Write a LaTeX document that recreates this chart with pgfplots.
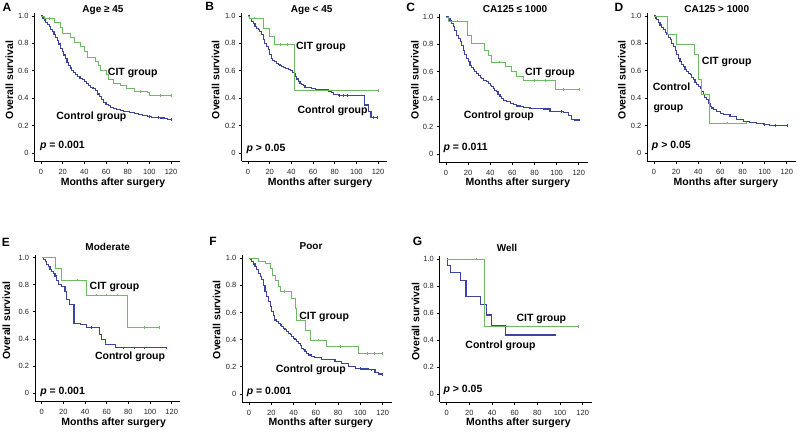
\documentclass[border=0pt]{standalone}
\usepackage{pgfplots}
\pgfplotsset{compat=1.18}
\usepackage{fontspec}
\setmainfont{Liberation Sans}
\definecolor{ctrl}{RGB}{58,70,160}
\definecolor{cit}{RGB}{110,185,100}
\newcommand\lab{\fontsize{10.5}{12}\selectfont\bfseries}
\newcommand\ann{\fontsize{10.5}{12}\selectfont\bfseries}
\newcommand\ttl{\fontsize{10}{12}\selectfont\bfseries}
\newcommand\plet{\fontsize{12}{14}\selectfont\bfseries}
\pgfplotsset{km/.style={
  scale only axis, anchor=south west,
  axis lines=left, axis line style={-, line width=0.9pt, black},
  xmin=-6, xmax=128, ymin=-0.06, ymax=1.02,
  xtick={0,20,40,60,80,100,120}, xticklabels={0,20,40,60,80,100,120},
  ytick={0,0.2,0.4,0.6,0.8,1}, yticklabels={0,0.2,0.4,0.6,0.8,1.0},
  tick align=outside, major tick length=2.5pt,
  every tick/.style={black, line width=0.7pt},
  tick label style={font=\fontsize{7.5}{8}\selectfont, text=black!85},
  xticklabel style={yshift=-2.5pt},
  /pgf/number format/assume math mode=true,
  clip=false,
},
ctl/.style={const plot, color=ctrl, line width=1.1pt, no marks},
cg/.style={const plot, color=cit, line width=0.75pt, no marks},
cens/.style={only marks, mark=|, mark size=1.3pt, mark options={line width=0.5pt}},
}
\begin{document}
\begin{tikzpicture}[x=1pt,y=1pt]
% ---------------- A
\begin{axis}[km, at={(34.5pt,269.8pt)}, width=145.2pt, height=148pt]
\addplot[ctl] coordinates {(0,1.0)(1.5,0.985)(3,0.97)(4.5,0.955)(6,0.94)(7.5,0.92)(9,0.90)(10.5,0.885)(12,0.865)(13.5,0.845)(15,0.82)(16.5,0.795)(18,0.765)(19.5,0.74)(21,0.715)(22.5,0.69)(24,0.66)(25.5,0.64)(27,0.62)(28.5,0.60)(30,0.585)(32,0.57)(34,0.555)(36,0.545)(38,0.535)(40,0.52)(42,0.51)(44,0.495)(46,0.48)(48,0.47)(50,0.455)(52,0.43)(54,0.41)(56,0.39)(58,0.37)(60,0.355)(62,0.345)(64,0.335)(67,0.325)(70,0.315)(73,0.31)(76,0.305)(79,0.30)(82,0.295)(86,0.29)(90,0.28)(94,0.275)(98,0.265)(102,0.262)(106,0.258)(110,0.255)(114,0.25)(117,0.247)(120,0.245)};
\addplot[cg] coordinates {(0,1.0)(3,0.98)(12,0.95)(18,0.92)(20,0.875)(27,0.84)(31,0.81)(36,0.78)(40,0.74)(43,0.70)(50,0.67)(53,0.64)(55,0.60)(60,0.57)(62,0.54)(67,0.51)(73,0.49)(79,0.47)(86,0.45)(98,0.44)(100,0.42)(120,0.42)};
\addplot[cens, color=cit] coordinates {(8,0.98)(92,0.45)(110,0.42)(120,0.42)};
\addplot[cens, color=ctrl] coordinates {(100,0.265)(108,0.258)(120,0.245)};
\node[anchor=mid, font=\ann] at (axis cs:84.7,0.587) {CIT group};
\node[anchor=mid, font=\ann] at (axis cs:46.5,0.262) {Control group};
\node[anchor=mid west, inner sep=0pt, font=\ann] at (axis cs:-1,0.049) {\textit{p} = 0.001};
\end{axis}
% ---------------- B
\begin{axis}[km, at={(241.5pt,269.8pt)}, width=145.2pt, height=148pt]
\addplot[ctl] coordinates {(0,1.0)(1.5,0.98)(3,0.962)(5,0.945)(6.5,0.925)(8,0.91)(9.5,0.90)(11,0.885)(12.5,0.862)(14,0.83)(15.5,0.80)(17,0.775)(18.6,0.752)(20,0.72)(21.7,0.69)(23,0.678)(24.7,0.667)(26,0.655)(27.8,0.643)(29.5,0.637)(31,0.631)(33,0.623)(35,0.615)(37,0.607)(39,0.60)(41,0.59)(42.5,0.578)(43.5,0.56)(45,0.54)(46.4,0.522)(48,0.51)(49.5,0.50)(51,0.49)(52.6,0.481)(55.7,0.476)(58.8,0.468)(62,0.464)(68,0.46)(74,0.451)(77,0.44)(79,0.427)(83.5,0.42)(107.5,0.35)(111.5,0.30)(113.5,0.26)(119,0.26)};
\addplot[cg] coordinates {(0,1.0)(1,0.985)(13.9,0.91)(20.1,0.85)(24.1,0.79)(42.7,0.456)(120,0.456)};
\addplot[cens, color=cit] coordinates {(6,0.985)(30,0.79)(36,0.79)(120,0.456)};
\addplot[cens, color=ctrl] coordinates {(84,0.42)(88,0.42)(92,0.42)(116,0.26)(119,0.26)};
\node[anchor=mid, font=\ann] at (axis cs:67.3,0.777) {CIT group};
\node[anchor=mid, font=\ann] at (axis cs:78,0.308) {Control group};
\node[anchor=mid west, inner sep=0pt, font=\ann] at (axis cs:-1.5,0.03) {\textit{p} > 0.05};
\end{axis}
% ---------------- C
\begin{axis}[km, at={(439.4pt,268.8pt)}, width=148.2pt, height=148pt]
\addplot[ctl] coordinates {(0,1.0)(2,0.985)(3.6,0.971)(5,0.95)(6.6,0.927)(8,0.90)(9.6,0.867)(11,0.842)(12.7,0.818)(14,0.79)(15.7,0.757)(17,0.727)(18.7,0.697)(20,0.672)(21.7,0.648)(23,0.632)(24.7,0.617)(26,0.602)(27.7,0.587)(29,0.572)(30.8,0.558)(32,0.548)(33.8,0.539)(35,0.533)(36.8,0.527)(38,0.515)(39.8,0.502)(41,0.49)(42.8,0.478)(44,0.466)(45.8,0.454)(47,0.435)(48.8,0.417)(50,0.405)(51.9,0.393)(54.9,0.381)(57.9,0.369)(60.9,0.362)(63.9,0.35)(66.9,0.345)(69.9,0.34)(75.9,0.335)(81.9,0.33)(87.9,0.328)(94,0.313)(100,0.308)(106,0.301)(110.6,0.284)(113.6,0.252)(115.8,0.248)(120,0.248)};
\addplot[cg] coordinates {(0,1.0)(2,0.97)(19.3,0.867)(23,0.806)(34.7,0.757)(38.3,0.72)(41.3,0.672)(53.4,0.636)(59.4,0.60)(64,0.568)(70,0.534)(98.6,0.471)(120,0.471)};
\addplot[cens, color=cit] coordinates {(10,0.97)(48,0.672)(80,0.534)(90,0.534)(106,0.471)(120,0.471)};
\addplot[cens, color=ctrl] coordinates {(90,0.328)(104,0.308)(120,0.248)};
\node[anchor=mid, font=\ann] at (axis cs:94,0.592) {CIT group};
\node[anchor=mid, font=\ann] at (axis cs:47.8,0.279) {Control group};
\node[anchor=mid west, inner sep=0pt, font=\ann] at (axis cs:-2.4,0.041) {\textit{p} = 0.011};
\end{axis}
% ---------------- D
\begin{axis}[km, at={(647.4pt,269.8pt)}, width=148.2pt, height=148pt]
\addplot[ctl] coordinates {(0,1.0)(1.2,0.985)(2.4,0.971)(4,0.952)(5.4,0.934)(7,0.916)(8.4,0.898)(10,0.88)(11.5,0.862)(13,0.843)(14.5,0.825)(16,0.80)(17.5,0.777)(19,0.745)(20.5,0.716)(22,0.69)(23.5,0.667)(25,0.648)(26.5,0.631)(28,0.612)(29.5,0.595)(31,0.582)(32.6,0.57)(34,0.552)(35.6,0.534)(37,0.515)(38.6,0.498)(40,0.485)(41.6,0.473)(43,0.449)(44.6,0.425)(46,0.405)(47.6,0.388)(49,0.364)(50.6,0.34)(52,0.328)(53.6,0.316)(56.6,0.303)(59.7,0.291)(62.7,0.279)(68.7,0.267)(74.7,0.243)(80.7,0.231)(86.7,0.223)(92.7,0.218)(98.7,0.206)(104.7,0.199)(119.8,0.199)};
\addplot[cg] coordinates {(0,1.0)(12,0.862)(19.9,0.79)(36.2,0.716)(40,0.54)(42.5,0.43)(50,0.218)(83,0.218)};
\addplot[cens, color=cit] coordinates {(66,0.218)(83,0.218)};
\addplot[cens, color=ctrl] coordinates {(100,0.206)(110,0.199)(120,0.199)};
\node[anchor=mid, font=\ann] at (axis cs:65.7,0.667) {CIT group};
\node[anchor=mid west, inner sep=0pt, font=\ann] at (axis cs:-1.2,0.473) {Control};
\node[anchor=mid west, inner sep=0pt, font=\ann] at (axis cs:-0.6,0.328) {group};
\node[anchor=mid west, inner sep=0pt, font=\ann] at (axis cs:-2.1,0.049) {\textit{p} > 0.05};
\end{axis}
% ---------------- E
\begin{axis}[km, at={(35.2pt,29.9pt)}, width=145.2pt, height=146.1pt]
\addplot[ctl] coordinates {(0,1.0)(1.5,0.985)(3.1,0.97)(4.5,0.95)(6.2,0.934)(7.7,0.915)(9.2,0.897)(10.7,0.88)(12.3,0.865)(13.8,0.83)(15.4,0.80)(18.5,0.79)(21.5,0.75)(23,0.688)(26,0.651)(29.8,0.516)(35.4,0.504)(41.5,0.484)(53.2,0.43)(55.4,0.393)(58.5,0.356)(67.7,0.334)(115.4,0.334)};
\addplot[cg] coordinates {(0,1.0)(12.3,0.92)(18.5,0.835)(41.5,0.725)(79.4,0.486)(108.6,0.486)};
\addplot[cens, color=cit] coordinates {(33,0.835)(50,0.725)(60,0.725)(70,0.725)(95,0.486)(108.6,0.486)};
\addplot[cens, color=ctrl] coordinates {(46,0.484)(75,0.334)(85,0.334)(95,0.334)(115.4,0.334)};
\node[anchor=mid, font=\ann] at (axis cs:67.2,0.786) {CIT group};
\node[anchor=mid, font=\ann] at (axis cs:81.5,0.27) {Control group};
\node[anchor=mid west, inner sep=0pt, font=\ann] at (axis cs:-1.5,0.012) {\textit{p} = 0.001};
\end{axis}
% ---------------- F
\begin{axis}[km, at={(242.3pt,28.9pt)}, width=149.3pt, height=146.6pt]
\addplot[ctl] coordinates {(0,1.0)(1.2,0.99)(2.4,0.975)(4,0.957)(5.4,0.939)(7,0.915)(8.4,0.889)(10,0.865)(11.4,0.84)(13,0.8)(14.4,0.754)(16,0.717)(17.4,0.681)(19,0.645)(20.3,0.607)(22,0.575)(23.3,0.545)(25,0.533)(26.3,0.521)(28,0.508)(29.3,0.496)(31,0.484)(32.3,0.472)(34,0.46)(35.3,0.447)(37,0.435)(38.3,0.423)(40,0.41)(41.3,0.398)(43,0.386)(44.3,0.373)(46,0.355)(47.3,0.337)(49,0.325)(50.3,0.312)(52,0.3)(53.3,0.287)(56.3,0.275)(59.2,0.268)(65.2,0.256)(71.2,0.251)(77.2,0.238)(83.2,0.226)(89.2,0.201)(95.2,0.189)(101.1,0.184)(107.1,0.177)(113.1,0.16)(116.1,0.147)(120,0.14)};
\addplot[cg] coordinates {(0,1.0)(8.4,0.98)(14.4,0.963)(18.9,0.926)(21,0.877)(23.3,0.84)(26.3,0.79)(27.8,0.754)(38.3,0.705)(41.3,0.63)(42.8,0.545)(50.3,0.47)(54.8,0.398)(69.7,0.35)(98.1,0.30)(120,0.30)};
\addplot[cens, color=cit] coordinates {(32,0.754)(46,0.545)(62,0.398)(82,0.35)(106,0.30)(112,0.30)(120,0.30)};
\addplot[cens, color=ctrl] coordinates {(100,0.189)(110,0.177)(120,0.14)};
\node[anchor=mid, font=\ann] at (axis cs:67.5,0.57) {CIT group};
\node[anchor=mid, font=\ann] at (axis cs:55.5,0.177) {Control group};
\node[anchor=mid west, inner sep=0pt, font=\ann] at (axis cs:-2.1,0.017) {\textit{p} = 0.001};
\end{axis}
% ---------------- G
\begin{axis}[km, at={(439.9pt,28.9pt)}, width=151.9pt, height=145.8pt]
\addplot[ctl] coordinates {(0,1.0)(0.5,0.955)(3.5,0.9)(12.4,0.84)(17,0.72)(30,0.66)(35.3,0.585)(39.7,0.51)(51.5,0.437)(95.6,0.437)};
\addplot[cg] coordinates {(0,1.0)(33,0.499)(116,0.499)};
\addplot[cens, color=cit] coordinates {(26,1.0)(116,0.499)};
\addplot[cens, color=ctrl] coordinates {(60,0.437)(80,0.437)(90,0.437)(95.6,0.437)};
\node[anchor=mid, font=\ann] at (axis cs:83.5,0.553) {CIT group};
\node[anchor=mid, font=\ann] at (axis cs:47.4,0.358) {Control group};
\node[anchor=mid west, inner sep=0pt, font=\ann] at (axis cs:-2.9,0.03) {\textit{p} > 0.05};
\end{axis}
% ---------------- titles, letters, axis labels (absolute)
\node[anchor=mid, font=\ttl] at (103,420.7) {Age ≥ 45};
\node[anchor=mid, font=\ttl] at (311.7,421) {Age < 45};
\node[anchor=mid, font=\ttl] at (515,421) {CA125 ≤ 1000};
\node[anchor=mid, font=\ttl] at (716.7,421) {CA125 > 1000};
\node[anchor=mid, font=\ttl] at (107.7,183) {Moderate};
\node[anchor=mid, font=\ttl] at (311,184.3) {Poor};
\node[anchor=mid, font=\ttl] at (507,182.3) {Well};
\node[anchor=mid, font=\plet] at (7,421.8) {A};
\node[anchor=mid, font=\plet] at (209.7,422.7) {B};
\node[anchor=mid, font=\plet] at (410.8,421.8) {C};
\node[anchor=mid, font=\plet] at (619,421.8) {D};
\node[anchor=mid, font=\plet] at (5.8,187.3) {E};
\node[anchor=mid, font=\plet] at (213,188.2) {F};
\node[anchor=mid, font=\plet] at (417.5,188) {G};
\foreach \L in {34.5,241.5,439.4,647.4}{
  \node[anchor=mid, font=\lab] at (\L+78.5,248.3) {Months after surgery};}
\foreach \L in {35.2,242.3,439.9}{
  \node[anchor=mid, font=\lab] at (\L+78.5,8.5) {Months after surgery};}
\node[anchor=mid, rotate=90, font=\lab] at (10.5,351) {Overall survival};
\node[anchor=mid, rotate=90, font=\lab] at (216.7,351) {Overall survival};
\node[anchor=mid, rotate=90, font=\lab] at (416,351) {Overall survival};
\node[anchor=mid, rotate=90, font=\lab] at (623,351) {Overall survival};
\node[anchor=mid, rotate=90, font=\lab] at (7.5,110.2) {Overall survival};
\node[anchor=mid, rotate=90, font=\lab] at (217.8,111) {Overall survival};
\node[anchor=mid, rotate=90, font=\lab] at (416.7,109.3) {Overall survival};
\pgfresetboundingbox
\useasboundingbox (0,0) rectangle (800,431);
\end{tikzpicture}
\end{document}
